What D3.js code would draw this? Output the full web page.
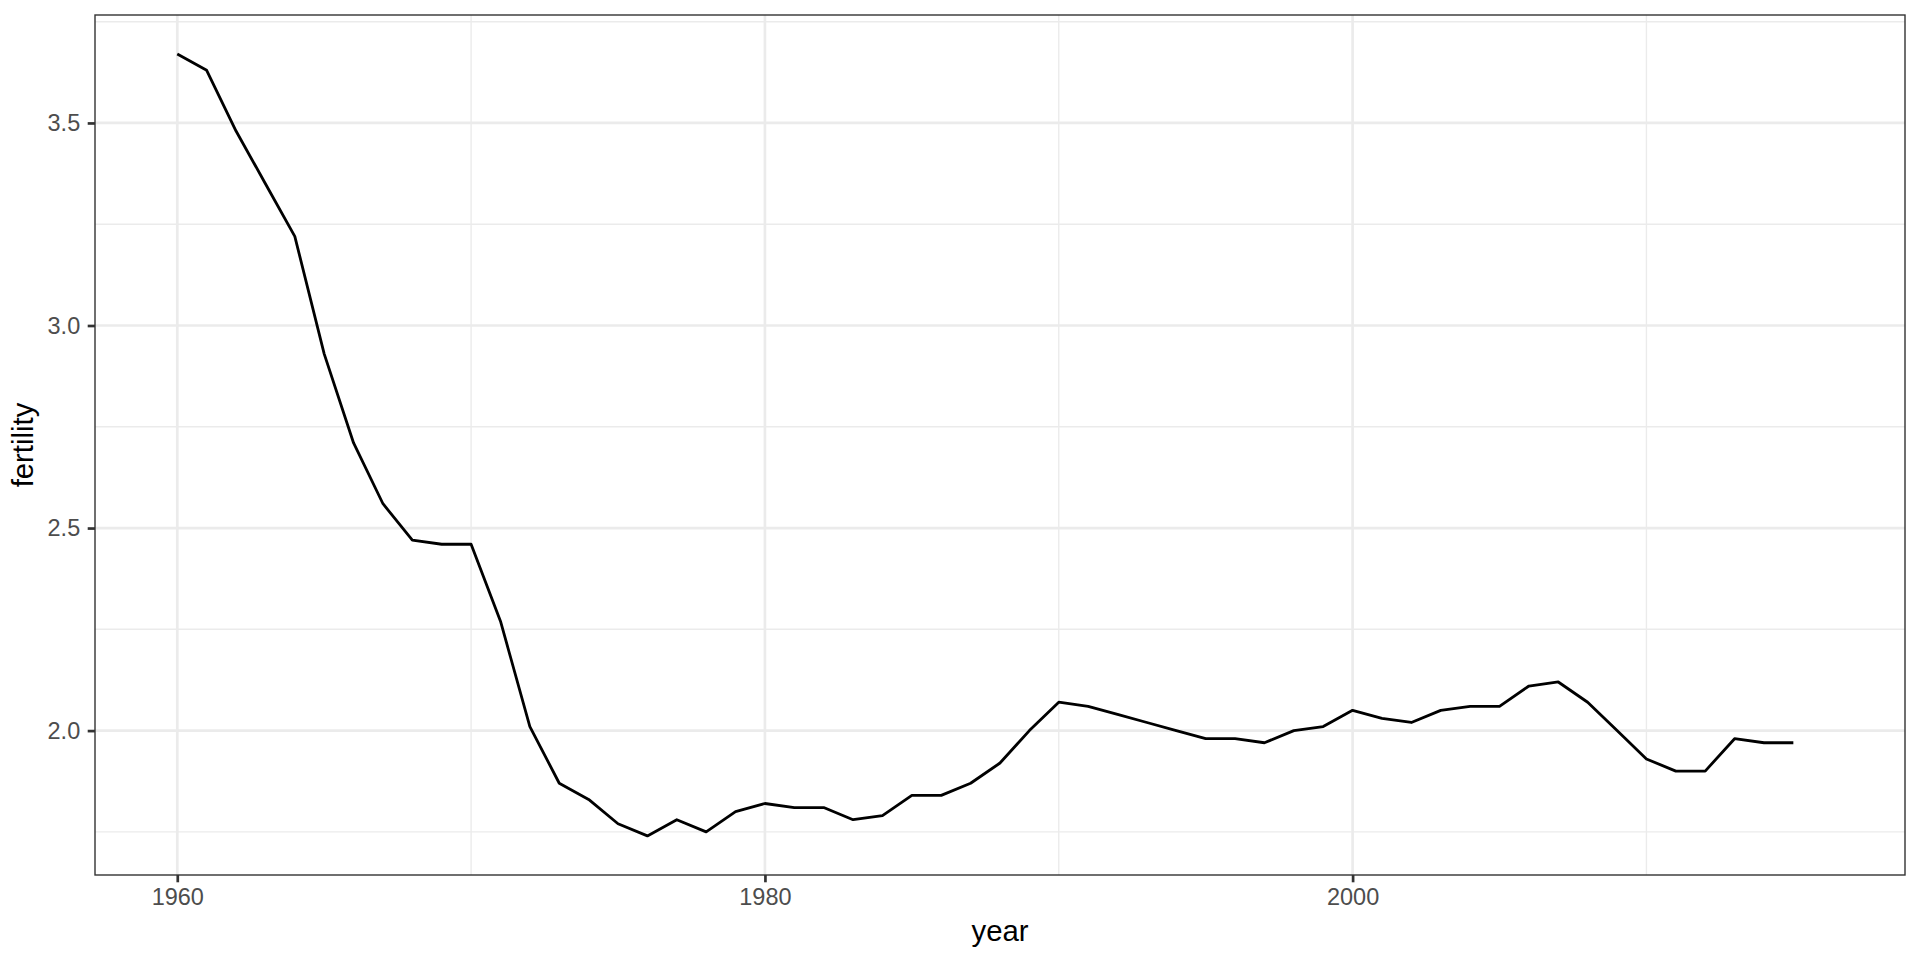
<!DOCTYPE html>
<html>
<head>
<meta charset="utf-8">
<script src="https://cdn.jsdelivr.net/npm/d3@7"></script>
<style>
  html, body { margin: 0; padding: 0; background: #fff; }
  svg { display: block; }
  text { font-family: "Liberation Sans", Arial, Helvetica, sans-serif; }
</style>
</head>
<body>
<svg id="chart" width="1920" height="960"></svg>
<script>
const years = [1960,1961,1962,1963,1964,1965,1966,1967,1968,1969,
  1970,1971,1972,1973,1974,1975,1976,1977,1978,1979,
  1980,1981,1982,1983,1984,1985,1986,1987,1988,1989,
  1990,1991,1992,1993,1994,1995,1996,1997,1998,1999,
  2000,2001,2002,2003,2004,2005,2006,2007,2008,2009,
  2010,2011,2012,2013,2014,2015,2016];
const fertility = [3.67,3.63,3.48,3.35,3.22,2.93,2.71,2.56,2.47,2.46,
  2.46,2.27,2.01,1.87,1.83,1.77,1.74,1.78,1.75,1.80,
  1.82,1.81,1.81,1.78,1.79,1.84,1.84,1.87,1.92,2.00,
  2.07,2.06,2.04,2.02,2.00,1.98,1.98,1.97,2.00,2.01,
  2.05,2.03,2.02,2.05,2.06,2.06,2.11,2.12,2.07,2.00,
  1.93,1.90,1.90,1.98,1.97,1.97,null];
const xMajorTicks = [1960, 1980, 2000];
const xMinorTicks = [1970, 1990, 2010];
const yMajorTicks = [2.0, 2.5, 3.0, 3.5];
const yMinorTicks = [1.75, 2.25, 2.75, 3.25, 3.75];
const xLabel = "year";
const yLabel = "fertility";

const data = years.map((y, i) => ({year: y, fertility: fertility[i]}));

const panel = {left: 95, right: 1905, top: 15, bottom: 875};
const svg = d3.select("#chart");

// ggplot-style 5% expansion
const xExt = d3.extent(years);
const xPad = (xExt[1] - xExt[0]) * 0.05;
const yVals = fertility.filter(v => v != null);
const yExt = d3.extent(yVals);
const yPad = (yExt[1] - yExt[0]) * 0.05;

const x = d3.scaleLinear().domain([xExt[0] - xPad, xExt[1] + xPad]).range([panel.left, panel.right]);
const y = d3.scaleLinear().domain([yExt[0] - yPad, yExt[1] + yPad]).range([panel.bottom, panel.top]);

const grid = svg.append("g");
// minor grid
grid.selectAll("line.ymin").data(yMinorTicks).join("line")
  .attr("x1", panel.left).attr("x2", panel.right)
  .attr("y1", d => y(d)).attr("y2", d => y(d))
  .attr("stroke", "#EBEBEB").attr("stroke-width", 1.4);
grid.selectAll("line.xmin").data(xMinorTicks).join("line")
  .attr("y1", panel.top).attr("y2", panel.bottom)
  .attr("x1", d => x(d)).attr("x2", d => x(d))
  .attr("stroke", "#EBEBEB").attr("stroke-width", 1.4);
// major grid
grid.selectAll("line.ymaj").data(yMajorTicks).join("line")
  .attr("x1", panel.left).attr("x2", panel.right)
  .attr("y1", d => y(d)).attr("y2", d => y(d))
  .attr("stroke", "#EBEBEB").attr("stroke-width", 2.7);
grid.selectAll("line.xmaj").data(xMajorTicks).join("line")
  .attr("y1", panel.top).attr("y2", panel.bottom)
  .attr("x1", d => x(d)).attr("x2", d => x(d))
  .attr("stroke", "#EBEBEB").attr("stroke-width", 2.7);

// line
const line = d3.line()
  .defined(d => d.fertility != null)
  .x(d => x(d.year)).y(d => y(d.fertility));
svg.append("path").datum(data)
  .attr("d", line)
  .attr("fill", "none")
  .attr("stroke", "#000")
  .attr("stroke-width", 2.8)
  .attr("stroke-linejoin", "round");

// border
svg.append("rect")
  .attr("x", panel.left).attr("y", panel.top)
  .attr("width", panel.right - panel.left).attr("height", panel.bottom - panel.top)
  .attr("fill", "none").attr("stroke", "#333333").attr("stroke-width", 1.4);

// axes
const xAxis = d3.axisBottom(x).tickValues(xMajorTicks).tickFormat(d3.format("d"))
  .tickSize(7.3).tickPadding(6.5);
const gx = svg.append("g").attr("transform", `translate(0,${panel.bottom})`).call(xAxis);
gx.select(".domain").remove();
gx.selectAll(".tick line").attr("stroke", "#333333").attr("stroke-width", 2.7);
gx.selectAll(".tick text").attr("fill", "#4D4D4D").style("font-size", "23.5px")
  .style("font-family", '"Liberation Sans", Arial, sans-serif');

const yAxis = d3.axisLeft(y).tickValues(yMajorTicks).tickFormat(d3.format(".1f"))
  .tickSize(7.3).tickPadding(7.5);
const gy = svg.append("g").attr("transform", `translate(${panel.left},0)`).call(yAxis);
gy.select(".domain").remove();
gy.selectAll(".tick line").attr("stroke", "#333333").attr("stroke-width", 2.7);
gy.selectAll(".tick text").attr("fill", "#4D4D4D").style("font-size", "23.5px")
  .style("font-family", '"Liberation Sans", Arial, sans-serif');

// titles
svg.append("text")
  .attr("x", (panel.left + panel.right) / 2).attr("y", 941)
  .attr("text-anchor", "middle")
  .style("font-size", "29.3px").attr("fill", "#000")
  .text(xLabel);
svg.append("text")
  .attr("transform", `translate(33,${(panel.top + panel.bottom) / 2}) rotate(-90)`)
  .attr("text-anchor", "middle")
  .style("font-size", "29.3px").attr("fill", "#000")
  .text(yLabel);
</script>
</body>
</html>
